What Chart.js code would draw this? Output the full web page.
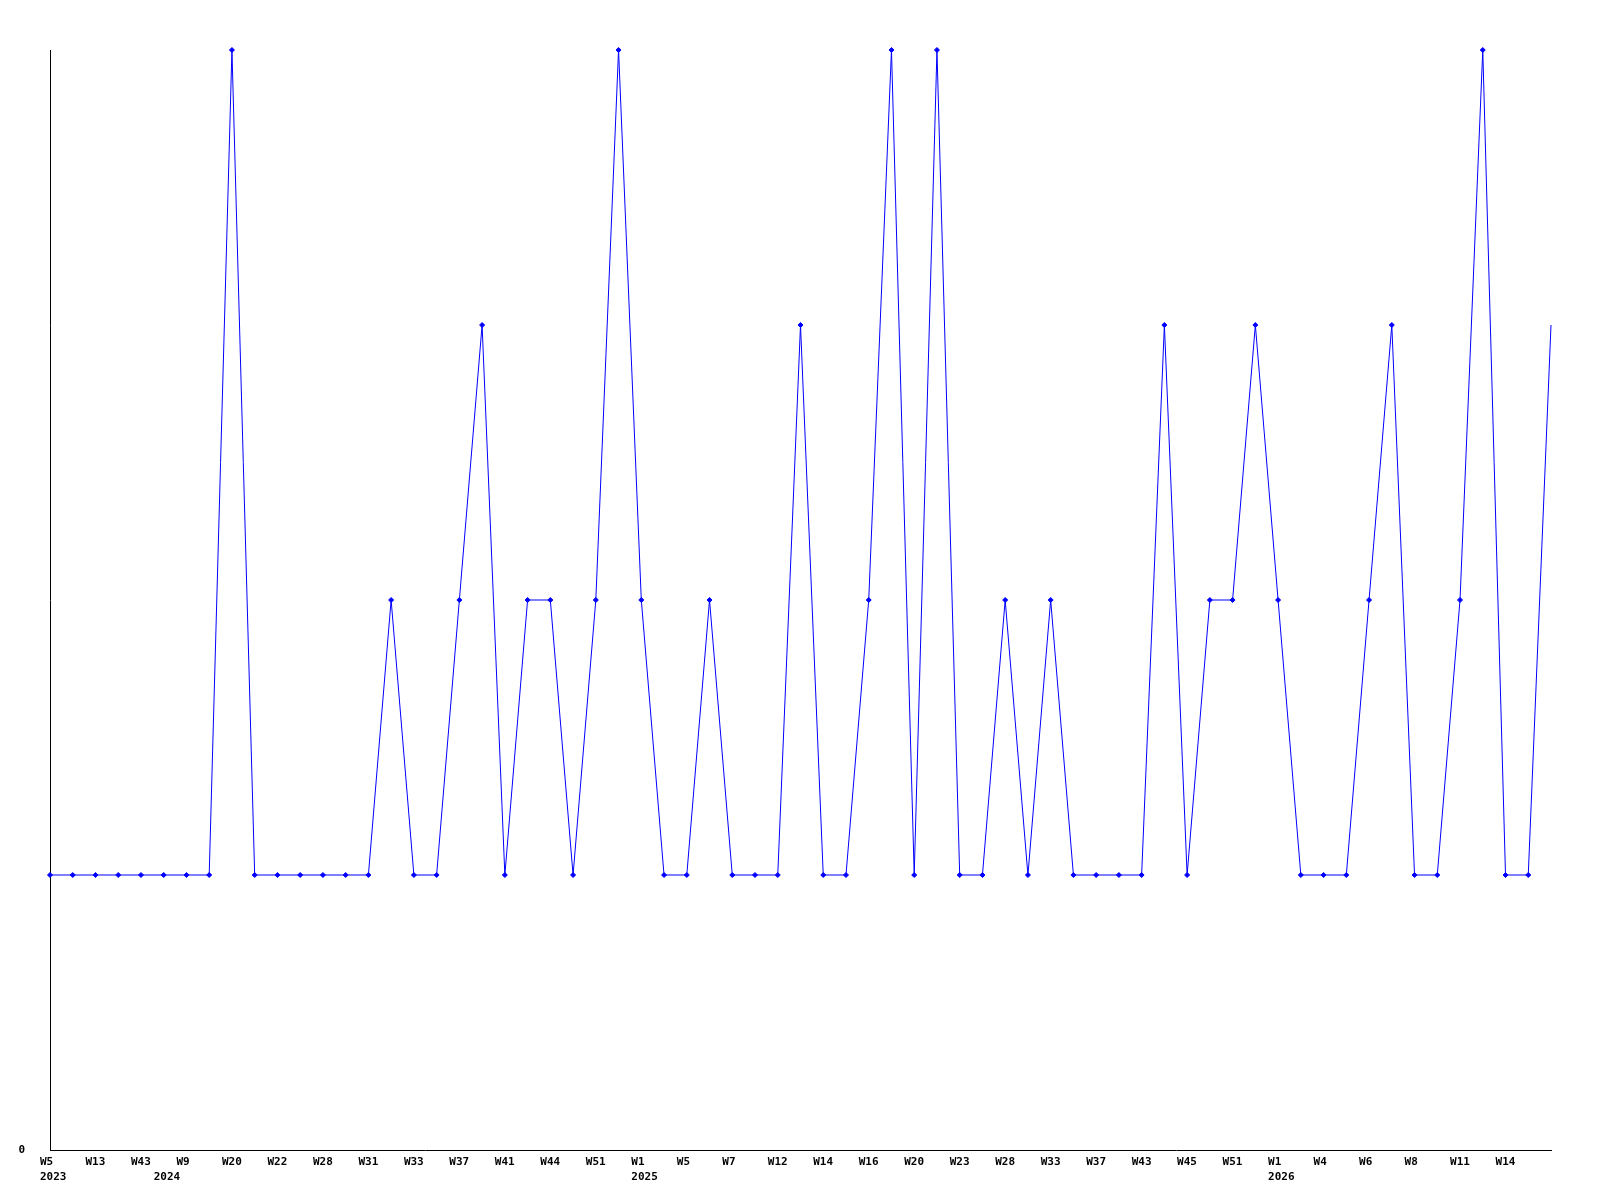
<!DOCTYPE html>
<html>
<head>
<meta charset="utf-8">
<script src="https://cdn.jsdelivr.net/npm/chart.js@4/dist/chart.umd.min.js"></script>
<style>
  html, body { margin: 0; padding: 0; background: #fff; }
  #chart { display: block; }
</style>
</head>
<body>
<canvas id="chart" width="1600" height="1200"></canvas>
<script>
// ----- Data (one entry per week, blank = no label shown)
var weeks = [
  ['W5', '2023'], '', 'W13', '', 'W43', ['', '2024'], 'W9', '', 'W20', '', 'W22', '', 'W28', '', 'W31', '',
  'W33', '', 'W37', '', 'W41', '', 'W44', '', 'W51', '', ['W1', '2025'], '', 'W5', '', 'W7', '',
  'W12', '', 'W14', '', 'W16', '', 'W20', '', 'W23', '', 'W28', '', 'W33', '', 'W37', '',
  'W43', '', 'W45', '', 'W51', '', ['W1', '2026'], '', 'W4', '', 'W6', '', 'W8', '', 'W11', '',
  'W14', '', ''
]
var counts = [
  1, 1, 1, 1, 1, 1, 1, 1, 4, 1, 1, 1, 1, 1, 1, 2,
  1, 1, 2, 3, 1, 2, 2, 1, 2, 4, 2, 1, 1, 2, 1, 1,
  1, 3, 1, 1, 2, 4, 1, 4, 1, 1, 2, 1, 2, 1, 1, 1,
  1, 3, 1, 2, 2, 3, 2, 1, 1, 1, 2, 3, 1, 1, 2, 4,
  1, 1, 3
]
var yTicks = [0]

// ----- Chart
var tickFont = { family: "'DejaVu Sans Mono', monospace", size: 11, weight: 'bold', lineHeight: '15px' }

var ctx = document.getElementById('chart')
var chart = new Chart(ctx, {
  type: 'line',
  data: {
    labels: weeks,
    datasets: [{
      data: counts,
      borderColor: '#0000ff',
      backgroundColor: '#0000ff',
      borderWidth: 1,
      pointStyle: 'rectRot',
      // last point sits on the right edge and gets cut off in the original
      pointRadius: function(c) { return c.dataIndex === counts.length - 1 ? 0 : 2.5 },
      pointBorderWidth: 1,
      tension: 0,
      clip: false
    }]
  },
  options: {
    responsive: false,
    devicePixelRatio: 1,
    animation: false,
    layout: { padding: { top: 50, right: 49, left: 0, bottom: 0 } },
    plugins: {
      legend: { display: false },
      tooltip: { enabled: false }
    },
    scales: {
      x: {
        offset: false,
        grid: { display: false, drawTicks: false },
        border: { display: true, color: '#000', width: 1 },
        ticks: {
          autoSkip: false,
          maxRotation: 0,
          align: 'start',
          labelOffset: -10,
          padding: 5,
          color: '#000',
          font: tickFont
        },
        afterFit: function(scale) { scale.height = 50 }
      },
      y: {
        min: 0,
        max: 4,
        grid: { display: false, drawTicks: false },
        border: { display: true, color: '#000', width: 1 },
        afterBuildTicks: function(scale) {
          scale.ticks = yTicks.map(function(v) { return { value: v } })
        },
        ticks: {
          padding: 25,
          color: '#000',
          font: tickFont
        },
        afterFit: function(scale) { scale.width = 50 }
      }
    }
  }
})
</script>
</body>
</html>
